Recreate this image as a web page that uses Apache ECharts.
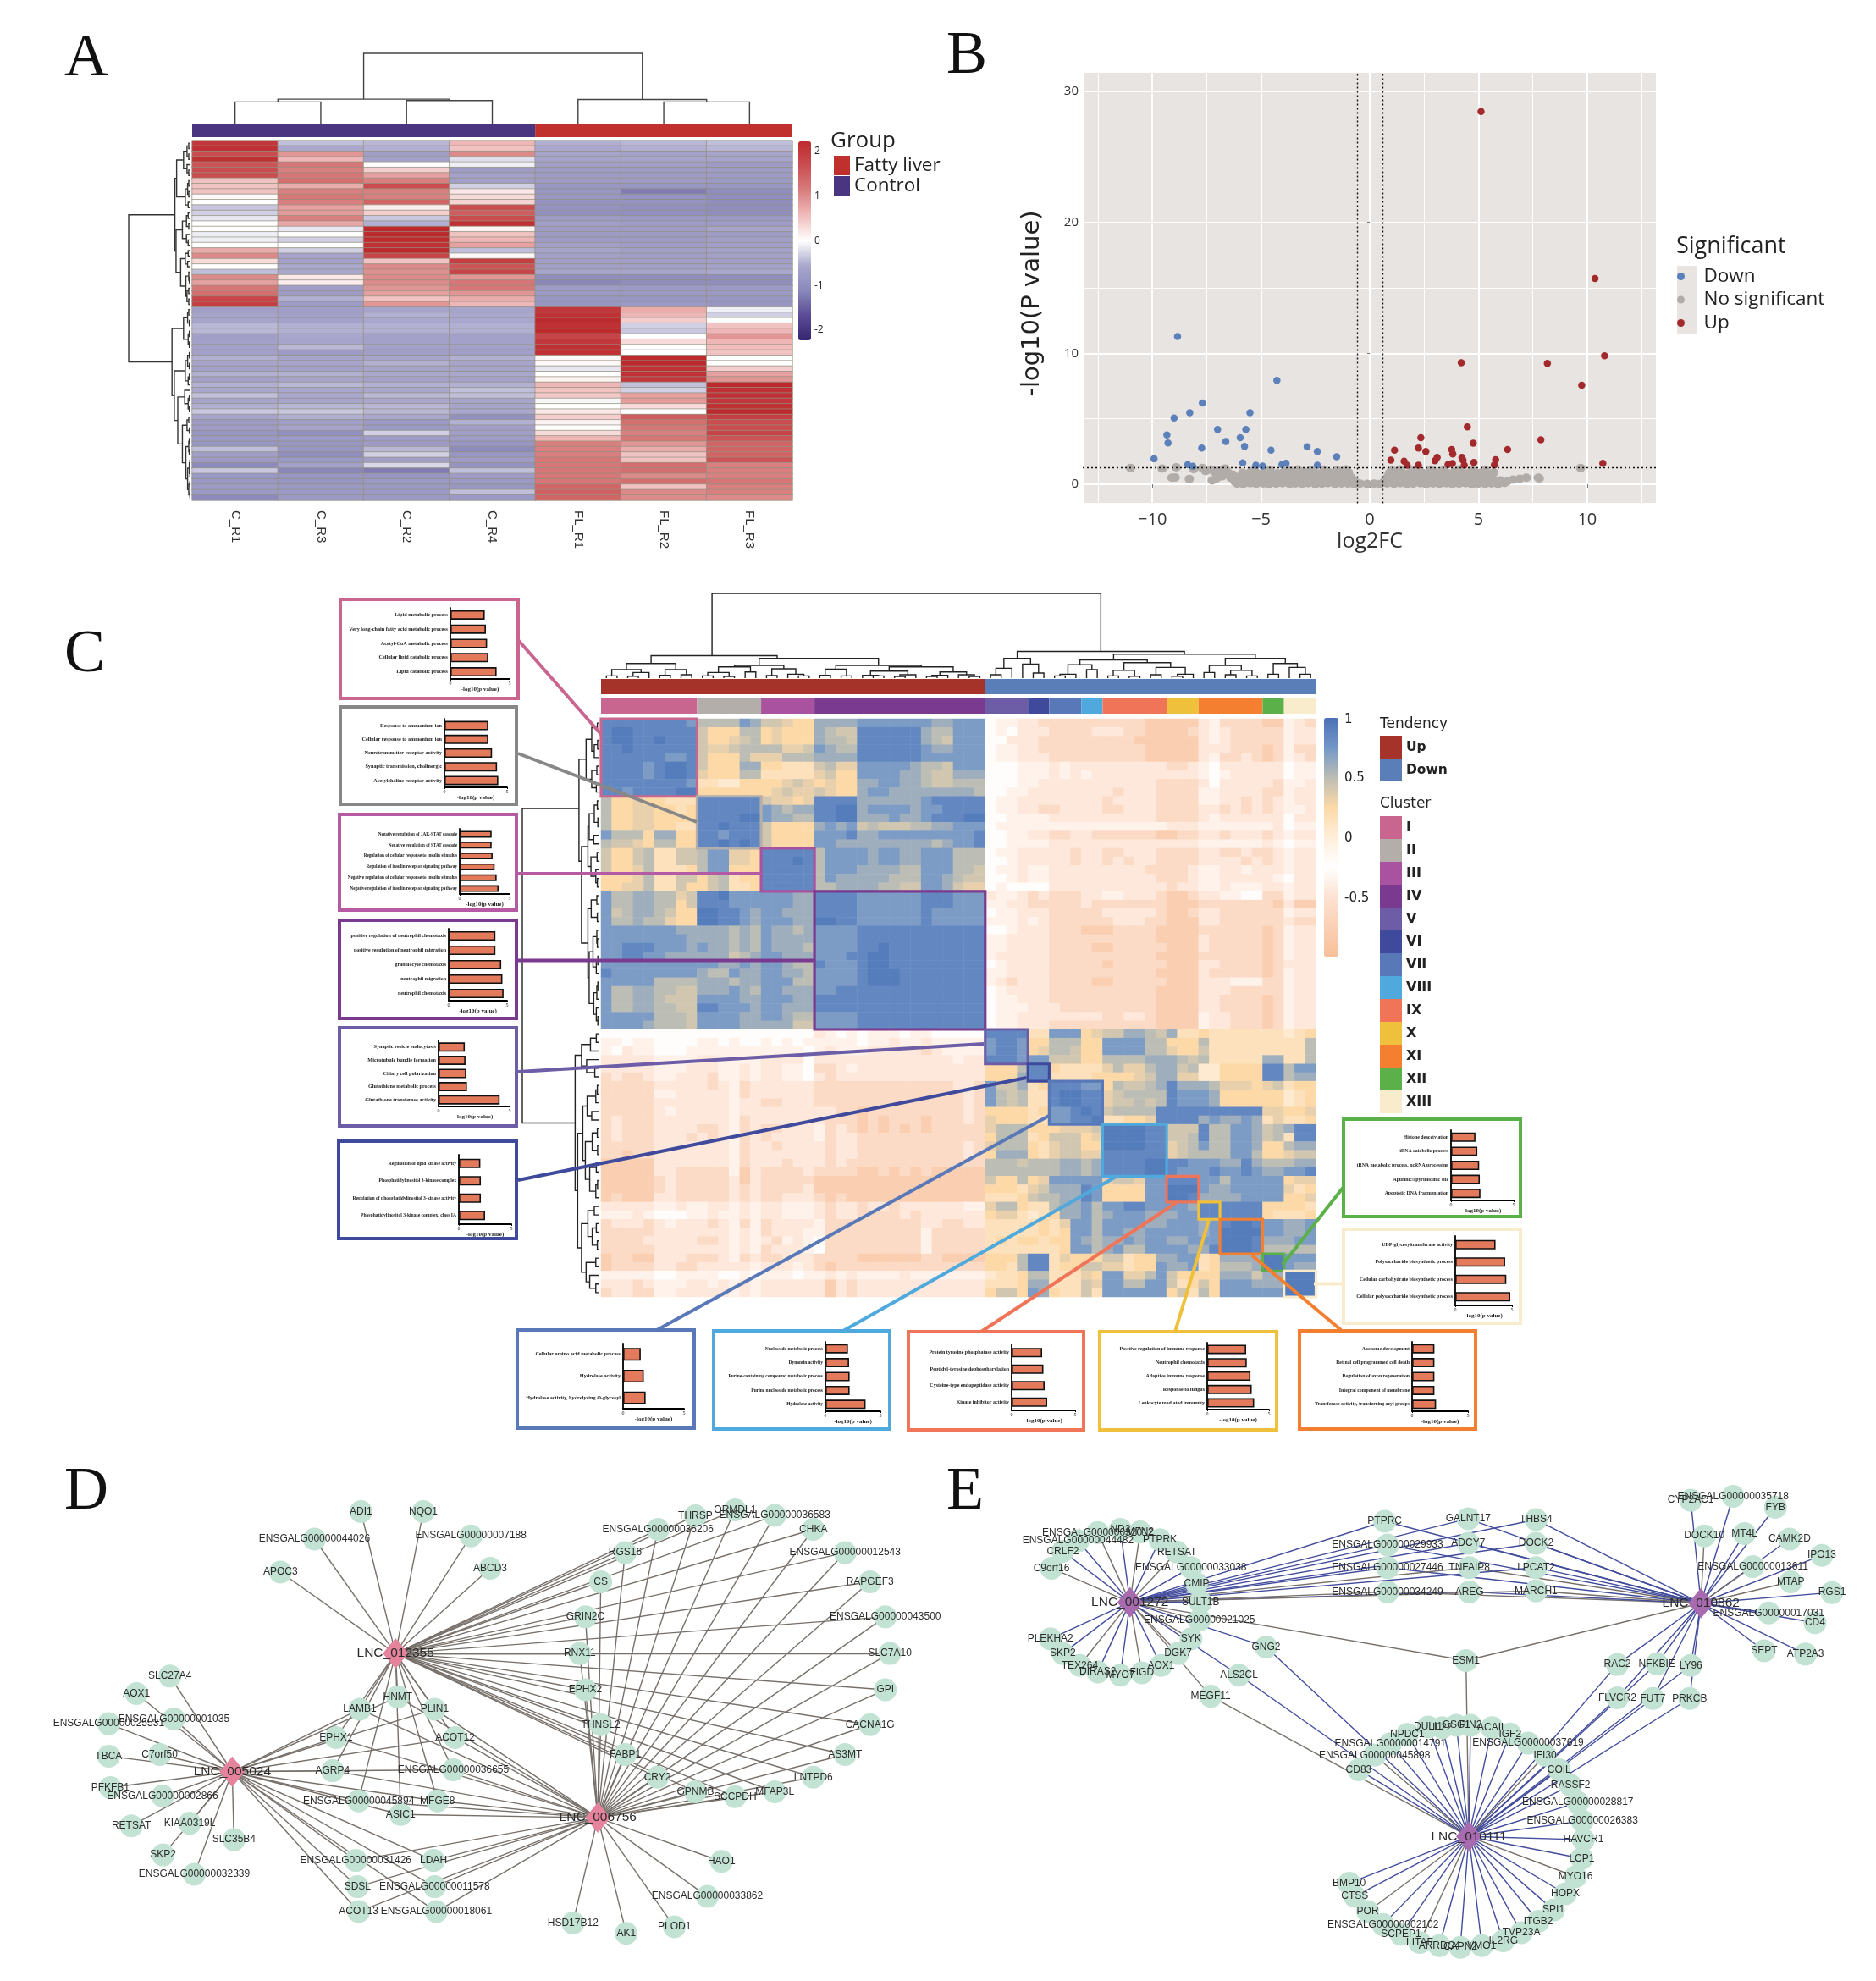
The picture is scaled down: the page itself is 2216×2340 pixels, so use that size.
<!DOCTYPE html>
<html><head><meta charset="utf-8">
<script src="https://cdn.jsdelivr.net/npm/echarts@6/dist/echarts.min.js"></script>
<style>html,body{margin:0;padding:0;background:#fff}#c{width:2216px;height:2340px;filter:blur(0.55px)}</style>
</head><body><div id="c"></div>
<script>
/* ---------- Panel A ---------- */
const sampleNames=['C_R1','C_R3','C_R2','C_R4','FL_R1','FL_R2','FL_R3'];
const groupSizes=[['Control',4,'#4a3580'],['Fatty liver',3,'#c0302c']];
const heatA=[
[2.0,-.4,-.45,.6,-.5,-.45,-.4],[2.1,-.55,-.5,.5,-.55,-.5,-.45],[1.7,.9,-.7,1.0,-.6,-.65,-.6],[2.1,.6,-.65,-.2,-.6,-.6,-.6],
[1.6,1.2,0,-.1,-.7,-.7,-.75],[1.7,1.1,.4,-.75,-.75,-.75,-.75],[1.7,1.2,.8,-.65,-.75,-.75,-.75],[.5,1.3,1.1,-.7,-.75,-.75,-.8],
[.5,.7,1.7,-.3,-.85,-.85,-.85],[.5,1.1,1.1,.2,-.85,-1.2,-1.0],[.05,1.2,1.1,.3,-.85,-.9,-1.0],[0,1.1,1.4,.35,-.9,-.9,-1.0],
[-.35,.8,.15,1.7,-.9,-.95,-1.0],[-.3,.85,.4,1.5,-.95,-.95,-1.0],[-.15,1.1,-.35,1.7,-.75,-.8,-.8],[0,.75,-.5,2.1,-.7,-.75,-.75],
[0,-.15,2.2,.1,-.75,-.75,-.6],[-.1,0,2.2,.5,-.75,-.75,-.75],[-.1,-.3,2.2,.6,-.75,-.75,-.7],[0,0,2.1,.8,-.7,-.75,-.7],
[.7,-.3,2.2,-.4,-.6,-.7,-.65],[1.0,-.6,1.8,.05,-.65,-.7,-.65],[.3,-.65,.5,1.9,-.7,-.7,-.7],[0,-.55,1.0,1.6,-.7,-.7,-.65],
[-.4,-.55,.95,1.8,-.6,-.6,-.55],[1.0,.2,1.0,.9,-1.0,-1.0,-1.0],[.8,.15,1.0,1.2,-1.1,-1.0,-1.0],[1.2,-.7,.9,1.2,-.75,-.8,-.8],
[1.3,-.75,.8,.9,-.8,-.8,-.8],[1.8,-.5,.5,.7,-.85,-.85,-.85],[1.9,-.75,.9,.6,-.85,-.8,-.85],
[-.7,-.7,-.6,-.6,2.0,.7,-.1],[-.6,-.65,-.5,-.55,2.1,.6,-.3],[-.6,-.65,-.55,-.55,2.2,.4,0],[-.45,-.5,-.5,-.5,2.1,-.3,.5],
[-.45,-.5,-.5,-.5,2.2,-.35,.6],[-.7,-.55,-.65,-.65,1.8,0,.9],[-.65,-.6,-.65,-.65,2.0,.3,.6],[-.65,-.45,-.65,-.65,2.1,0,.55],
[-.65,-.75,-.7,-.7,2.1,0,.5],[-.5,-.6,-.6,-.5,.05,2.2,0],[-.6,-.6,-.5,-.6,.05,2.2,0],[-.65,-.65,-.6,-.6,-.15,2.1,.4],
[-.5,-.5,-.55,-.55,0,2.1,.8],[-.65,-.6,-.65,-.65,.1,2.0,.9],[-.5,-.45,-.5,-.5,.6,-.4,2.2],[-.55,-.55,-.55,-.4,.5,-.3,2.1],
[-.4,-.55,-.45,-.4,.45,.8,2.1],[-.6,-.6,-.55,-.6,-.05,.85,2.0],[-.5,-.45,-.45,-.6,0,.3,2.1],[-.35,-.35,-.45,-.55,.2,0,2.2],
[-.6,-.5,-.55,-.95,.4,1.5,1.9],[-.75,-.7,-.8,-.5,.1,1.3,1.7],[-.75,-.6,-.8,-.7,0,1.2,1.7],[-.85,-.95,-.3,-.7,.3,1.1,1.8],
[-.8,-.8,-.75,-.75,.6,1.2,1.6],[-.85,-.85,-.75,-.85,1.1,.9,1.4],[-.4,-.85,-.45,-1.05,1.1,.7,1.4],[-.7,-1,-.3,-.85,1.1,.5,1.4],
[-.75,-.8,-.7,-.75,1.2,.5,1.6],[-1.05,-.65,-.25,-.9,1.2,1.3,1.1],[-.35,-1.1,-1.2,-.4,1.2,1.3,1.1],[-.8,-.85,-.85,-.75,1.2,1.0,1.1],
[-.8,-.85,-.8,-.8,1.2,1.3,1.2],[-.75,-.8,-.8,-.85,1.4,.5,1.1],[-.8,-.8,-.8,-.4,1.45,1.0,1.1],[-1.05,-.8,-.8,-.8,1.4,1.0,1.0]];
const treeAcol=[205,[73,[65,0,0],[69,0,0]],[72,0,[65,0,0]]];
const treeArow=[107,
 [27,[24,[12,[6,[3,0,0],[3,0,0]],[6,0,[3,0,0]]],[9,[5,[3,0,0],[3,0,0]],[4,0,0]]],[25,[14,[7,[4,0,0],[3,0,0]],[7,0,[4,0,0]]],[17,[9,[4,0,0],[5,0,0]],[8,[3,0,[2,0,0]],[6,[3,0,0],[3,0,0]]]]]],
 [32,[12,[5,[3,0,0],[2,0,0]],[4,[2,0,0],[2,0,0]]],[28,[9,[5,[2,0,0],[2,0,0]],[4,[2,0,0],0]],[22,[10,0,[4,[2,0,0],[2,0,0]]],[14,[6,[3,0,0],[2,0,0]],[8,[3,[2,0,0],[2,0,0]],[5,[2,[1,0,0],[1,0,0]],[3,[1,0,0],[1,0,0]]]]]]]]];

/* ---------- Panel B ---------- */
const downPts=[[-8.84,11.28],[-4.27,7.94],[-7.7,6.2],[-8.28,5.46],[-5.51,5.46],[-9,5.06],[-7,4.19],[-5.7,4.19],[-9.33,3.77],[-5.96,3.56],[-6.62,3.27],[-9.28,3.16],[-5.76,2.9],[-7.73,2.77],[-4.54,2.61],[-2.88,2.87],[-2.41,2.5],[-1.52,2.11],[-9.92,1.95],[-5.84,1.63],[-8.37,1.5],[-8.14,1.37],[-5.24,1.45],[-4.93,1.4],[-4.04,1.5],[-3.85,1.61],[-2.41,1.45]];
const upPts=[[5.12,28.45],[10.36,15.71],[10.8,9.81],[4.21,9.28],[8.17,9.23],[9.75,7.57],[4.49,4.38],[7.87,3.4],[2.35,3.56],[4.76,3.14],[2.24,2.77],[1.14,2.61],[2.58,2.5],[3.77,2.66],[3.82,2.32],[6.34,2.66],[3.1,2.06],[3,1.8],[4.24,2.06],[4.29,1.85],[.97,1.85],[1.58,1.77],[1.72,1.45],[2.24,1.45],[3.6,1.5],[3.8,1.58],[4.35,1.45],[4.79,1.66],[5.79,1.87],[5.73,1.48],[10.72,1.61]];
const greyPts=[[-11,1.25],[-9.55,1.2],[-9.1,.5],[-8.95,.52],[-8.3,.4],[-8.9,1.3],[-8.1,1.15],[-7.7,1.25],[-7.55,1.0],[-7.3,1.12],[-7.1,.9],[-6.95,1.05],[-7.25,.3],[-7.05,.45],[-6.8,.6],[-6.7,.78],[-6.55,.95],[-6.4,.5],[-6.3,.75],[-6.65,1.2],[-6.2,.2],
[-6.1,.05],[-5.82,.03],[-5.5,.08],[-5.22,.04],[-4.9,.07],[-4.63,.02],[-4.3,.06],[-4.02,.09],[-3.68,.03],[-3.42,.07],[-3.1,.04],[-2.83,.08],[-2.5,.02],[-2.2,.06],[-1.93,.09],[-1.6,.03],[-1.31,.07],[-1,.05],[-.72,.02],[-.45,.06],[-.12,.03],[.2,.05],[.47,.02],[.8,.07],[1.12,.04],[1.41,.09],[1.72,.03],[2,.06],[2.33,.08],[2.6,.02],[2.91,.07],[3.2,.04],[3.52,.09],[3.8,.03],[4.11,.06],[4.42,.08],[4.7,.02],[5,.05],[5.31,.04],[5.6,.07],[5.9,.03],[6.2,.1],
[-6,.28],[-5.71,.33],[-5.4,.25],[-5.1,.36],[-4.82,.29],[-4.5,.34],[-4.21,.26],[-3.9,.38],[-3.6,.3],[-3.31,.27],[-3,.35],[-2.72,.31],[-2.41,.25],[-2.1,.37],[-1.8,.29],[-1.5,.34],[-1.22,.27],[-.92,.33],[-.68,.22],[.68,.24],[.93,.31],[1.2,.28],[1.5,.36],[1.82,.26],[2.1,.33],[2.42,.29],[2.7,.37],[3.01,.25],[3.31,.34],[3.6,.3],[3.9,.27],[4.2,.36],[4.52,.3],[4.8,.26],[5.12,.34],[5.42,.28],[5.72,.32],[6,.3],[6.35,.25],[6.6,.36],[6.9,.42],[7.2,.5],
[-5.95,.58],[-5.62,.62],[-5.31,.55],[-5,.66],[-4.7,.6],[-4.4,.55],[-4.1,.68],[-3.8,.6],[-3.5,.57],[-3.2,.66],[-2.9,.6],[-2.6,.55],[-2.3,.67],[-2,.6],[-1.7,.55],[-1.4,.65],[-1.1,.6],[-.85,.52],[.82,.55],[1.05,.62],[1.35,.58],[1.65,.66],[1.95,.56],[2.25,.64],[2.55,.6],[2.85,.55],[3.15,.67],[3.45,.6],[3.75,.57],[4.05,.65],[4.35,.6],[4.65,.55],[4.95,.66],[5.25,.6],[5.55,.55],
[-5.85,.88],[-5.5,.92],[-5.2,.85],[-4.85,.95],[-4.55,.88],[-4.25,.84],[-3.95,.96],[-3.65,.9],[-3.35,.85],[-3.05,.95],[-2.75,.88],[-2.45,.84],[-2.15,.96],[-1.85,.9],[-1.55,.85],[-1.25,.94],[-.98,.9],[.9,.86],[1.2,.95],[1.5,.88],[1.8,.84],[2.1,.96],[2.4,.9],[2.7,.85],[3,.95],[3.3,.88],[3.6,.84],[3.9,.96],[4.2,.9],[4.5,.85],[4.8,.95],[5.1,.88],[5.4,.84],[5.7,.9],
[-5.3,1.1],[-4.6,1.12],[-3.7,1.08],[-3.3,1.13],[-2.7,1.1],[-2.1,1.12],[-1.5,1.08],[-1.1,1.14],[1,1.1],[1.4,1.13],[2,1.08],[2.8,1.12],[3.4,1.1],[4.1,1.13],[4.7,1.08],[5.3,1.12],[7.8,.45],[7.75,.5],[9.7,1.25]];
const xMinor=[-12.5,-7.5,-2.5,2.5,7.5,12.5], yMinor=[5,15,25];
const fcCut=[-.58,.58], pCut=1.29;

/* ---------- Panel C ---------- */
const tendency=[['Up',36,'#a5332a'],['Down',31,'#5a7fb8']];
const clusterNames=['I','II','III','IV','V','VI','VII','VIII','IX','X','XI','XII','XIII'];
const clusterColors=['#c9668f','#b3aeaa','#a9529f','#7a3a8f','#6c5da6','#3f4a9c','#5878b8','#4fa9dc','#f07457','#efc03c','#f47f30','#5bb04a','#f9eccd'];
const clusterBarSizes=[9,6,5,16,4,2,3,2,6,3,6,2,3];
const clusterBoxStart=[0,9,15,20,36,40,42,47,53,56,58,62,64];
const clusterBoxSize=[9,6,5,16,4,2,5,6,3,2,4,2,3];
const levels={a:-.27,b:-.36,c:-.45,d:-.6,e:-.78,f:-.95,'0':.05,'1':.15,'2':.25,'3':.33,'4':.42,'5':.5,'6':.6,'7':.72,'8':.85,'9':.93};
const corrUp=[
"888888887 555576 44322 6666 777777 766 777","899888888 422255 23222 6544 888888 655 777","899889888 422345 23222 6554 888888 654 777",
"889888888 433455 55334 7655 888888 766 777","888888778 422253 33555 6666 888888 777 777","888878998 422266 22111 4533 777776 554 777",
"888878998 322255 11111 3422 777766 544 666","888888887 110022 22343 2322 667766 544 555","887888899 222222 23433 4322 677666 666 665",
"522322111 888888 43323 8888 666666 788 888","522332212 888888 76566 8899 677776 778 888","522332222 888899 76655 8899 666766 788 899",
"522332211 889888 42222 6767 454445 566 777","755526622 887888 42222 7778 667777 777 778","544325522 889898 42222 7766 666666 656 778",
"422451144 577332 88888 5777 767766 777 555","422451144 577332 88898 5777 767766 777 555","422351112 577222 88888 5777 666655 777 554",
"222351144 245122 88888 5766 666555 776 544","223351142 245112 88888 5566 665544 776 433",
"755665534 889777 77766 8888 777777 888 777","755665524 888777 77766 8888 777777 888 777","745665422 998876 77666 8888 777777 877 777",
"755655322 998876 77766 9988 777777 877 777","777777766 666565 76656 7777 888888 888 888","777777776 666565 76666 7777 888888 888 888",
"778887776 766565 76665 7777 889888 888 888","778877666 666456 77666 7778 899888 888 888","777777777 776676 77655 8777 899888 888 888",
"877777777 655766 77665 7777 899988 888 888","777775555 666566 77755 7777 899988 888 888","755665544 666765 77666 7788 888888 888 888",
"755665444 777766 77766 8888 888888 888 888","755665544 887776 77666 8888 888888 888 888","777775554 777766 77655 7777 888888 888 888",
"777765554 777766 66644 7777 888888 888 888"];
const corrCross=[
"abbc cd ddddd ddddee eee cb dddd ee bcd","abac cc ddddc ccddee eed cb cddd dd bcc","aacc cd ddddd dddeee eee cb cddd dd bcc",
"abbc cd ddddd ddddee eee cc cddd ed bdd","abbc cc ddddd ddddee eee cb ddcd ed bcd","aaab bb cbccc cccccc ddc ba cccc cc abb",
"aaab bb cbcbc cccccc ccc ba bccc cc abb","aaab bc ccccc cccccd ddd ca cccc cd bbc","aabb cc ccccc cdcccd ddd bb cccc dd bcc",
"abbc cc ccccc dccccd ddd bb ccdc dc bcc","abbc cd dcccc ddcccd ddd cc dcdc dc bbc","aabb bb ccccc cccccd ddd cb cccc cc acc",
"abbb bb bbbbb bbbbbb ccc bb bbbb bc abb","aabb cc ddccd ddddde edd cc dccc dc bcc","aabb bb ccccc cccccc ccc bb bbbb cb abb",
"abbc cc ccdcc ddcccd ddd cc ddcd dc bcc","aabc cc ccdcc dcdccd ddd cc ccdc dc bcc","abbc bb ccccc ccccdd ddc bb ccbc cc bcc",
"aabc bb ccccc cccccd ddc bb cccc cb acc","abaa aa ccccc cccccc dcc bb cbbb cc bcc","cbbc dc dddcc bbcccd eed cc bbaa dd bcc",
"bbcc dd dddcd dddddd eee dd dddd de cee","abbc cc ddddd cccccd eed cc dddd dd bcc","bbbc bc ddddd dcccdd eee cc dddd dd cdd",
"aabc cc dddee edddde eee dd dddd ed bcc","bbcc cc ddddd ddddde eee cd dddd ed bcc","bbcc cc dddde eddddd eee cd dddd ed bcc",
"bccc cc ddddd ddddde eee dd dddd ed bcc","abcc cc ddddd eddddd eee cc dddd ed ccc","bbcc cc ddddd ddddde eee cd dddd ed bcc",
"bcdc cc dddde eddddd eee cc cbbb dd bcc","abcc cc ddddd ddddde eee cc cddd dd bcc","abbc cc ddddd ddddde eee cc dddd ed bcc",
"abbb cc cdddd ddddde eee cc dddd ed bcc","abbc cc ccccc ddccde eee bc cddd ed bcc","abbc cc ddddd ddddde eee bc cddd ed bcc"];
const corrDown=[
"8888 11 77723 446654 611 21 1111 11 012","7887 22 55522 777755 222 51 1111 11 115","7887 23 55422 777755 322 41 1111 11 115",
"8887 77 44422 555566 654 51 1111 66 115","2225 88 21111 353356 645 00 2222 88 577","2226 88 11112 222346 633 00 2222 88 566",
"7446 12 88877 254456 866 65 3332 34 122","7545 11 89988 345555 877 76 2222 22 012","7545 11 89988 344545 877 76 2222 22 012",
"2222 12 77898 455558 888 88 8888 33 223","3222 11 77889 112238 888 67 6676 13 112","3555 22 23334 999988 444 85 5776 45 688",
"2555 12 44423 999988 445 85 5776 45 188","3555 21 34422 999988 345 75 5776 22 566","2666 21 34433 888888 345 55 5775 22 344",
"5554 55 56656 888899 887 77 6686 55 566","5555 55 56656 888899 877 78 7787 66 778","4225 23 77777 344377 888 77 5777 77 233",
"2221 34 66687 222277 999 76 6777 77 312","1112 45 56687 222277 998 66 6677 77 223","3552 11 56675 778877 776 88 8888 22 221",
"2331 01 26675 677766 677 88 8888 21 112","1111 12 13775 777766 777 67 8998 77 667","1111 12 12775 776677 777 67 9999 77 667",
"1212 21 22765 667677 667 77 9998 66 677","1111 11 12775 675577 776 68 9998 55 555","2225 88 13222 441226 677 12 6666 99 777",
"2215 88 12244 331227 667 12 5556 99 766","0112 55 11132 773357 422 22 6664 66 999","1112 66 11143 775577 412 42 7776 66 999",
"2442 76 21141 777777 241 52 7777 77 999"];
/* node = [height, left, right, optional attach position]; 0 = leaf */
const treeC=[302,
 [80,[52,[30,[8,0,0],[20,[7,0,0],0]],[30,[10,0,0],[12,0,0]]],
  [70,[45,[40,[20,[8,0,0],[6,0,0]],[22,0,0]],[33,[9,0,0],[14,0,[8,0,0]]]],
   [45,[32,[10,0,0],[8,0,0]],[40,[25,[10,0,[8,0,0]],[12,[6,0,0],0]],[22,[10,[6,0,0],0],[12,0,[6,0,0]]]]],16.5],10.4],
 [95,[70,[35,[12,0,0],0],[50,0,[18,0,0]]],
  [85,[65,[48,[14,[8,0,0],0],[30,0,0]],[55,[28,[8,0,0],[7,0,0]],[38,[12,0,0],[14,[7,0,0],0]]]],
   [70,[45,[20,0,0],[28,[12,0,0],[8,0,0]]],[52,[14,0,0],[38,0,[14,0,0]]]]]]];

/* enrichment insets */
const insetTerms=[
["Lipid metabolic process","Very long-chain fatty acid metabolic process","Acetyl-CoA metabolic process","Cellular lipid catabolic process","Lipid catabolic process"],
["Response to ammonium ion","Cellular response to ammonium ion","Neurotransmitter receptor activity","Synaptic transmission, cholinergic","Acetylcholine receptor activity"],
["Negative regulation of JAK-STAT cascade","Negative regulation of STAT cascade","Regulation of cellular response to insulin stimulus","Regulation of insulin receptor signaling pathway","Negative regulation of cellular response to insulin stimulus","Negative regulation of insulin receptor signaling pathway"],
["positive regulation of neutrophil chemotaxis","positive regulation of neutrophil migration","granulocyte chemotaxis","neutrophil migration","neutrophil chemotaxis"],
["Synaptic vesicle endocytosis","Microtubule bundle formation","Ciliary cell polarization","Glutathione metabolic process","Glutathione transferase activity"],
["Regulation of lipid kinase activity","Phosphatidylinositol 3-kinase complex","Regulation of phosphatidylinositol 3-kinase activity","Phosphatidylinositol 3-kinase complex, class IA"],
["Cellular amino acid metabolic process","Hydrolase activity","Hydrolase activity, hydrolyzing O-glycosyl"],
["Nucleoside metabolic process","Dynamin activity","Purine-containing compound metabolic process","Purine nucleoside metabolic process","Hydrolase activity"],
["Protein tyrosine phosphatase activity","Peptidyl-tyrosine dephosphorylation","Cysteine-type endopeptidase activity","Kinase inhibitor activity"],
["Positive regulation of immune response","Neutrophil chemotaxis","Adaptive immune response","Response to fungus","Leukocyte mediated immunity"],
["Axoneme development","Retinal cell programmed cell death","Regulation of axon regeneration","Integral component of membrane","Transferase activity, transferring acyl groups"],
["Histone deacetylation","tRNA catabolic process","tRNA metabolic process, ncRNA processing","Apurinic/apyrimidinic site","Apoptotic DNA fragmentation"],
["UDP-glycosyltransferase activity","Polysaccharide biosynthetic process","Cellular carbohydrate biosynthetic process","Cellular polysaccharide biosynthetic process"]];
const insetValues=[[2.9,3.0,3.1,3.2,3.9],[3.5,3.5,3.8,4.2,4.3],[3.2,3.2,3.3,3.5,3.7,3.9],[4.0,4.0,4.5,4.6,4.7],[1.85,1.9,1.95,2.0,4.3],[2.05,2.1,2.1,2.5],[1.45,1.7,1.85],[2.05,2.15,2.2,2.2,3.65],[2.4,2.5,2.6,2.8],[3.15,3.2,3.5,3.6,3.8],[2.0,2.0,2.0,2.0,2.15],[1.95,2.1,2.25,2.3,2.35],[3.55,4.4,4.5,4.85]];
const insetFont=[6.2,6.2,5.2,6,6.2,5.6,6.2,5.5,6,6,5.8,5.8,6];

/* ---------- Panels D, E: node layouts ---------- */
const hubsD=[['LNC_012355',623,583],['LNC_005024',335,948],['LNC_006756',980,1090]];
const nodesD_A=[['ADI1',562,145],['NQO1',672,145],['ENSGALG00000044026',480,230],['ENSGALG00000007188',756,220],['APOC3',420,332],['ABCD3',790,320]];
const nodesD_AC=[['ENSGALG00000036206',1086,200],['THRSP',1152,158],['ORMDL1',1222,140],['ENSGALG00000036583',1292,157],['RGS16',1028,272],['CHKA',1360,200],['ENSGALG00000012543',1416,272],['CS',985,362],['RAPGEF3',1460,362],['GRIN2C',958,470],['ENSGALG00000043500',1487,470],['RNX11',948,583],['SLC7A10',1495,583],['EPHX2',958,695],['GPI',1487,695],['THNSL2',985,803],['CACNA1G',1460,803],['FABP1',1028,895],['AS3MT',1416,895],['CRY2',1085,965],['LNTPD6',1360,965],['GPNMB',1152,1010],['SCCPDH',1222,1025],['MFAP3L',1292,1010]];
const nodesD_ABC=[['HNMT',627,717],['LAMB1',560,755],['PLIN1',692,755],['EPHX1',518,843],['ACOT12',728,843],['AGRP4',512,945],['ENSGALG00000036655',725,942],['ENSGALG00000045894',558,1038],['MFGE8',697,1038],['ASIC1',632,1080]];
const nodesD_BC=[['ENSGALG00000031426',553,1222],['LDAH',690,1222],['SDSL',556,1303],['ENSGALG00000011578',692,1303],['ACOT13',558,1380],['ENSGALG00000018061',695,1380]];
const nodesD_B=[['SLC27A4',225,653],['AOX1',166,707],['ENSGALG00000001035',232,785],['ENSGALG00000025531',117,800],['TBCA',117,900],['C7orf50',207,895],['PFKFB1',120,997],['ENSGALG00000002866',212,1023],['RETSAT',157,1115],['KIAA0319L',260,1107],['SLC35B4',338,1158],['SKP2',213,1205],['ENSGALG00000032339',268,1265]];
const nodesD_C=[['HAO1',1198,1225],['ENSGALG00000033862',1173,1333],['PLOD1',1115,1427],['AK1',1030,1447],['HSD17B12',936,1415]];
const hubsE=[['LNC_001272',247,425],['LNC_010862',1258,428],['LNC_010111',847,1148]];
const nodesE_A=[['C9orf16',108,320],['CRLF2',128,268],['ENSGALG00000044482',155,235],['ENSGALG00000032012',190,210],['ND2',230,200],['MFN2',265,208],['PTPRK',300,232],['RETSAT',330,270],['ENSGALG00000033038',355,318],['CMIP',365,368],['SULT1B',372,425],['ENSGALG00000021025',370,480],['SYK',355,538],['DGK7',332,583],['AOX1',302,620],['FIGD',268,643],['MYO7',230,650],['DIRAS2',190,640],['TEX264',158,620],['SKP2',128,583],['PLEKHA2',106,538]];
const nodesE_AB=[['PTPRC',698,175],['GALNT17',846,167],['THBS4',966,170],['ENSGALG00000029933',703,248],['ADCY7',846,243],['DOCK2',966,243],['ENSGALG00000027446',703,318],['TNFAIP8',848,318],['LPCAT2',966,318],['ENSGALG00000034249',703,393],['AREG',848,393],['MARCH1',966,390]];
const nodesE_ABC=[['ESM1',842,605]];
const nodesE_B=[['ENSGALG00000035718',1315,98],['CYP2AC1',1240,110],['FYB',1390,132],['DOCK10',1264,220],['MT4L',1335,213],['CAMK2D',1415,230],['IPO13',1472,280],['ENSGALG00000013611',1350,315],['MTAP',1417,362],['RGS1',1490,395],['ENSGALG00000017031',1378,458],['CD4',1460,488],['SEPT',1370,575],['ATP2A3',1443,585]];
const nodesE_BC=[['RAC2',1110,617],['NFKBIE',1180,615],['LY96',1240,620],['FLVCR2',1110,720],['FUT7',1173,722],['PRKCB',1238,722]];
const nodesE_AC=[['GNG2',488,563],['ALS2CL',440,650],['MEGF11',390,715]];
const nodesE_C=[['CD83',652,942],['ENSGALG00000045898',680,897],['ENSGALG00000014791',708,862],['NPDC1',738,833],['DULI1',775,810],['IL22',800,812],['GSG1',825,805],['PIN2',850,805],['ACAIL',888,812],['IGF2',920,832],['ENSGALG00000037619',952,860],['IFI30',982,897],['COIL',1007,942],['RASSF2',1027,990],['ENSGALG00000028817',1040,1043],['ENSGALG00000026383',1048,1100],['HAVCR1',1050,1158],['LCP1',1047,1216],['MYO16',1036,1272],['HOPX',1018,1325],['SPI1',997,1375],['ITGB2',970,1410],['TVP23A',940,1445],['IL2RG',908,1470],['VMO1',870,1485],['CAPN2',832,1490],['ARRDC4',795,1485],['LITAF',760,1475],['SCPEP1',727,1450],['ENSGALG00000002102',695,1420],['POR',668,1380],['CTSS',645,1333],['BMP10',635,1292]];
const brownEdgesE=['ESM1','MEGF11','C9orf16','ENSGALG00000032012','MFN2','RETSAT','TEX264','DGK7','FIGD','ENSGALG00000021025','SYK','DOCK10','ENSGALG00000013611','MTAP','POR','MYO16','LITAF','ENSGALG00000045898','IFI30','ENSGALG00000034249','MARCH1','TNFAIP8'];

/* ---------- builders ---------- */
const grid=[],xAxis=[],yAxis=[],series=[],legend=[],visualMap=[],gfx=[];
const SANS='Liberation Sans',OPEN='Open Sans',SERIF='Liberation Serif';
function addGrid(l,t,w,h,bg){grid.push(Object.assign({left:l,top:t,width:w,height:h,containLabel:false},bg?{show:true,backgroundColor:bg,borderWidth:0}:{}));return grid.length-1;}
function hiddenVal(gi,min,max,inverse){return {gridIndex:gi,type:'value',min,max,inverse:!!inverse,show:false};}
function addAxes(x,y){xAxis.push(x);yAxis.push(y);return [xAxis.length-1,yAxis.length-1];}
function treeSegs(tree){let leaf=0;const segs=[];(function walk(n){if(!Array.isArray(n))return{x:leaf++ +.5,h:0};const a=walk(n[1]),b=walk(n[2]);segs.push([a.x,b.x,n[0],a.h,b.h]);return{x:n[3]!==undefined?n[3]:(a.x+b.x)/2,h:n[0]};})(tree);return segs;}
function addDendro(tree,gi,hMax,n,sideways,color){
 const ax=sideways?addAxes(hiddenVal(gi,0,hMax,true),hiddenVal(gi,0,n,true)):addAxes(hiddenVal(gi,0,n),hiddenVal(gi,0,hMax));
 series.push({type:'custom',silent:true,xAxisIndex:ax[0],yAxisIndex:ax[1],clip:false,animation:false,data:treeSegs(tree),
  renderItem(p,api){const a=api.value(0),b=api.value(1),t=api.value(2),ha=api.value(3),hb=api.value(4);
   const c=(pos,h)=>api.coord(sideways?[h,pos]:[pos,h]);
   return {type:'polyline',shape:{points:[c(a,ha),c(a,t),c(b,t),c(b,hb)]},style:{stroke:color,lineWidth:1.4,fill:null}};}});
}
function addStack(gi,items,n){
 const ax=addAxes(hiddenVal(gi,0,n),{gridIndex:gi,type:'category',data:['a'],show:false});
 items.forEach(it=>series.push({type:'bar',name:it[0],stack:'s'+gi,barWidth:'100%',silent:true,animation:false,xAxisIndex:ax[0],yAxisIndex:ax[1],data:[it[1]],itemStyle:{color:it[2]}}));
}
function txt(t,x,y,size,opt){gfx.push({type:'text',z:100,silent:true,x,y,style:Object.assign({text:t,fontSize:size,fontFamily:OPEN,fill:'#222',verticalAlign:'middle'},opt||{})});}

/* A */
{
 const g=addGrid(227,166,709,425);
 const ax=addAxes({gridIndex:g,type:'category',data:sampleNames,position:'bottom',axisLine:{show:false},axisTick:{show:false},
   axisLabel:{rotate:-90,interval:0,margin:12,fontSize:15,fontFamily:SANS,color:'#333'}},
   {gridIndex:g,type:'category',inverse:true,data:heatA.map((_,i)=>i),show:false});
 const d=[];heatA.forEach((r,i)=>r.forEach((v,j)=>d.push([j,i,v])));
 const si=series.length;
 series.push({type:'heatmap',silent:true,animation:false,progressive:0,xAxisIndex:ax[0],yAxisIndex:ax[1],data:d,itemStyle:{borderColor:'#93917f',borderWidth:.7}});
 visualMap.push({type:'continuous',seriesIndex:si,min:-2.2,max:2.2,left:943,top:167,itemWidth:15,itemHeight:235,padding:0,calculable:false,hoverLink:false,realtime:false,
  inRange:{color:['#372570','#5a4c94','#8a88bb','#a9a7cd','#ffffff','#f0bcbc','#d97f7f','#cb4f52','#bd2a2e']}});
 addDendro(treeAcol,addGrid(227,63,709,84),205,7,false,'#444');
 addDendro(treeArow,addGrid(152,166,73,425),107,67,true,'#333');
 addStack(addGrid(227,147,709,15),groupSizes,7);
 legend.push({left:985,top:184,orient:'vertical',selectedMode:false,icon:'rect',itemWidth:19,itemHeight:23,itemGap:1,padding:0,
  textStyle:{fontFamily:OPEN,fontSize:22.5,color:'#222'},data:['Fatty liver','Control']});
 txt('Group',981,167,26);
 [[2,179],[1,232],[0,285],[-1,338],[-2,390]].forEach(t=>txt(String(t[0]),962,t[1],12));
}
/* B */
{
 const g=addGrid(1279,84.5,678,510,'#e8e4e2');
 const ax=addAxes({gridIndex:g,type:'value',min:-13.2,max:13.2,splitNumber:5,
   splitLine:{show:true,lineStyle:{color:'#fff',width:2}},axisLine:{show:false},axisTick:{show:true,length:4,lineStyle:{color:'#777'}},
   axisLabel:{fontFamily:OPEN,fontSize:20,color:'#333',margin:10,showMinLabel:false,showMaxLabel:false,formatter:v=>v<0?'\u2212'+Math.abs(v):String(v)},
   name:'log2FC',nameLocation:'middle',nameGap:33,nameTextStyle:{fontFamily:OPEN,fontSize:25,color:'#333',verticalAlign:'top'}},
  {gridIndex:g,type:'value',min:-1.45,max:31.5,splitNumber:3,
   splitLine:{show:true,lineStyle:{color:'#fff',width:2}},axisLine:{show:false},axisTick:{show:true,length:3,lineStyle:{color:'#777'}},
   axisLabel:{fontFamily:OPEN,fontSize:15,color:'#333',margin:5,showMinLabel:false,showMaxLabel:false},
   name:'-log10(P value)',nameLocation:'middle',nameGap:45,nameTextStyle:{fontFamily:'DejaVu Sans',fontSize:29,color:'#222',padding:[0,38,0,0]}});
 const base={type:'scatter',silent:true,animation:false,xAxisIndex:ax[0],yAxisIndex:ax[1],symbolSize:8.5};
 const thin={color:'#fff',width:1,type:'solid'};
 series.push(Object.assign({},base,{name:'No significant',symbolSize:[11,10],data:greyPts,itemStyle:{color:'#b2aca9',opacity:1},
  markLine:{silent:true,z:1,symbol:'none',animation:false,label:{show:false},lineStyle:thin,data:xMinor.map(v=>({xAxis:v})).concat(yMinor.map(v=>({yAxis:v})))}}));
 series.push(Object.assign({},base,{name:'Down',data:downPts,itemStyle:{color:'#5b80ba',opacity:1}}));
 series.push(Object.assign({},base,{name:'Up',data:upPts,itemStyle:{color:'#a32a2c',opacity:1},
  markLine:{silent:true,z:6,symbol:'none',animation:false,label:{show:false},lineStyle:{color:'#111',width:1.4,type:[2,3]},data:fcCut.map(v=>({xAxis:v})).concat([{yAxis:pCut}])}}));
 legend.push({left:1981,top:315,orient:'vertical',selectedMode:false,icon:'circle',itemWidth:24,itemHeight:9,itemGap:4.5,padding:0,
  textStyle:{fontFamily:OPEN,fontSize:22.5,color:'#222',padding:[0,0,0,10]},
  data:[{name:'Down',itemStyle:{color:'#5b80ba'}},{name:'No significant',itemStyle:{color:'#b2aca9'}},{name:'Up',itemStyle:{color:'#a32a2c'}}]});
 gfx.push({type:'rect',z:-1,silent:true,shape:{x:1981,y:314,width:24,height:81},style:{fill:'#e8e4e2'}});
 txt('Significant',1980,291,27);
}
/* C */
{
 const g=addGrid(710,849,844.5,683);
 const cats=[...Array(67).keys()];
 const ax=addAxes({gridIndex:g,type:'category',data:cats,show:false},{gridIndex:g,type:'category',inverse:true,data:cats,show:false});
 const up=corrUp.map(s=>s.replace(/ /g,'')),cr=corrCross.map(s=>s.replace(/ /g,'')),dn=corrDown.map(s=>s.replace(/ /g,''));
 const d=[];
 up.forEach((s,i)=>{for(let j=0;j<36;j++)d.push([j,i,levels[s[j]]]);});
 cr.forEach((s,i)=>{for(let j=0;j<31;j++){const v=levels[s[j]];d.push([36+j,i,v]);d.push([i,36+j,v]);}});
 dn.forEach((s,i)=>{for(let j=0;j<31;j++)d.push([36+j,36+i,levels[s[j]]]);});
 const si=series.length;
 series.push({type:'heatmap',silent:true,animation:false,progressive:0,xAxisIndex:ax[0],yAxisIndex:ax[1],data:d});
 visualMap.push({type:'continuous',seriesIndex:si,min:-1,max:1,left:1564,top:848,itemWidth:17,itemHeight:282,padding:0,calculable:false,hoverLink:false,realtime:false,
  inRange:{color:['#f8c09a','#fad0b4','#fde2d2','#ffffff','#feeeda','#fdd9a8','#bcbdb4','#7397c8','#4a71b6']}});
 const ov=addAxes(hiddenVal(g,0,67),hiddenVal(g,0,67,true));
 series.push({type:'custom',silent:true,animation:false,clip:false,z:5,xAxisIndex:ov[0],yAxisIndex:ov[1],
  data:clusterBoxStart.map((s,i)=>[s,clusterBoxSize[i]]),
  renderItem(p,api){const s=api.value(0),n=api.value(1),a=api.coord([s,s]),b=api.coord([s+n,s+n]);
   return {type:'rect',shape:{x:a[0],y:a[1],width:b[0]-a[0],height:b[1]-a[1]},style:{stroke:clusterColors[p.dataIndex],lineWidth:3.2,fill:null}};}});
 addDendro(treeC,addGrid(710,701,844.5,100),302,67,false,'#222');
 addDendro(treeC,addGrid(617,849,91,683),302,67,true,'#222');
 addStack(addGrid(710,802,844.5,18),tendency,67);
 addStack(addGrid(710,825,844.5,18),clusterNames.map((n,i)=>[n,clusterBarSizes[i],clusterColors[i]]),67);
 legend.push({left:1630,top:869,orient:'vertical',selectedMode:false,icon:'rect',itemWidth:26,itemHeight:27,itemGap:0,padding:0,
  textStyle:{fontFamily:'DejaVu Sans',fontSize:15.5,fontWeight:'bold',color:'#222'},
  data:tendency.map(t=>({name:t[0],itemStyle:{color:t[2]}}))});
 legend.push({left:1630,top:964,orient:'vertical',selectedMode:false,icon:'rect',itemWidth:26,itemHeight:27,itemGap:0,padding:0,
  textStyle:{fontFamily:'DejaVu Sans',fontSize:16,fontWeight:'bold',color:'#222'},data:clusterNames});
 txt('Tendency',1630,856,17,{fontFamily:'DejaVu Sans'});
 txt('Cluster',1630,950,17,{fontFamily:'DejaVu Sans'});
 [['1',850],['0.5',919],['0',990],['-0.5',1061]].forEach(t=>txt(t[0],1588,t[1],15,{fontFamily:'DejaVu Sans'}));
 const frames=[[402,708,210,117],[402,835,208,115],[401,962,209,113],[401,1087,209,116],[401,1214,209,116],[400,1348,210,115],[611,1571,209,116],[843,1572,208,116],[1073,1573,207,116],[1299,1573,209,116],[1535,1572,208,116],[1587,1322,209,115],[1587,1452,209,111]];
 const frameCols=['#c9668f','#878787','#b55aa5','#7a3a8f','#6c5da6','#3f4a9c','#5878b8','#4fa9dc','#f07457','#efc03c','#f47f30','#5bb04a','#f9eccd'];
 const links=[[612,756,710.6,868],[612,890,823,971],[612,1032,899,1032],[612,1134.5,962,1134.5],[612,1266,1162,1233],[612,1394,1212.5,1273],[776,1571,1239,1318],[996,1572,1320,1389],[1159,1573,1389,1421],[1388,1573,1428,1441],[1584,1571,1479,1483],[1587,1402,1515,1494],[1587,1516.6,1552,1516.6]];
 frames.forEach((f,i)=>{
  gfx.push({type:'rect',z:90,silent:true,shape:{x:f[0],y:f[1],width:f[2],height:f[3]},style:{stroke:frameCols[i],lineWidth:4,fill:null}});
  const l=links[i];
  gfx.push({type:'polyline',z:91,silent:true,shape:{points:[[l[0],l[1]],[l[2],l[3]]]},style:{stroke:frameCols[i],lineWidth:4,fill:null}});
 });
 const insetBox=[[532,718,70,84],[525,849,74,81],[543,979,59,77],[530,1097,69,85],[518,1229,84,78],[542,1364,62,82],[736,1587,72,77],[975,1585,65,82],[1195,1588,75,78],[1426,1586,73,79],[1668,1585,66,82],[1714,1335,74,83],[1719,1460,67,82]];
 insetBox.forEach((b,i)=>{
  const gi=addGrid(b[0],b[1],b[2],b[3]);
  const a=addAxes({gridIndex:gi,type:'value',min:0,max:5,interval:5,splitLine:{show:false},
    axisLine:{show:true,lineStyle:{color:'#000',width:1.8}},axisTick:{show:true,length:2,lineStyle:{color:'#000',width:1}},
    axisLabel:{fontSize:6,margin:2,color:'#222',fontFamily:SERIF},
    name:'-log10(p value)',nameLocation:'middle',nameGap:4,nameTextStyle:{fontSize:7,fontFamily:SERIF,fontWeight:'bold',color:'#222'}},
   {gridIndex:gi,type:'category',inverse:true,data:insetTerms[i],splitLine:{show:false},
    axisLine:{show:true,lineStyle:{color:'#000',width:1.8}},axisTick:{show:false},
    axisLabel:{interval:0,fontSize:insetFont[i],margin:3,fontFamily:SERIF,fontWeight:'bold',color:'#222'}});
  series.push({type:'bar',silent:true,animation:false,xAxisIndex:a[0],yAxisIndex:a[1],data:insetValues[i],barWidth:insetValues[i].length>5?8:(insetValues[i].length<4?15:11),
   itemStyle:{color:'#e47a5c',borderColor:'#111',borderWidth:1.6}});
 });
}
/* D, E */
function addNet(l,t,w,h,hubs,groups,hubColor,edgeColor,brown){
 const gi=addGrid(l,t,w,h);
 const ax=addAxes(hiddenVal(gi,0,1568),hiddenVal(gi,0,1568,true));
 const nodes=[],links=[];
 const lbl={show:true,position:'inside',fontSize:12,fontFamily:SANS,color:'#2b2b2b'};
 groups.forEach(g=>g[0].forEach(n=>{
  nodes.push({name:n[0],value:[n[1],n[2]],symbol:'circle',symbolSize:27,itemStyle:{color:'#c2e2d4'},label:lbl});
  g[1].forEach(hi=>links.push({source:n[0],target:hubs[hi][0],lineStyle:{color:(brown&&!brown.includes(n[0]))?edgeColor:'#77706a',width:1.4}}));
 }));
 hubs.forEach(n=>nodes.push({name:n[0],value:[n[1],n[2]],symbol:'diamond',symbolSize:[30,36],itemStyle:{color:hubColor},label:Object.assign({},lbl,{fontSize:15.5})}));
 series.push({type:'graph',layout:'none',coordinateSystem:'cartesian2d',xAxisIndex:ax[0],yAxisIndex:ax[1],silent:true,animation:false,roam:false,data:nodes,links,z:3,lineStyle:{opacity:1,curveness:0}});
}
addNet(50,1730,1050,600,hubsD,[[nodesD_A,[0]],[nodesD_AC,[0,2]],[nodesD_ABC,[0,1,2]],[nodesD_BC,[1,2]],[nodesD_B,[1]],[nodesD_C,[2]]],'#e5829c','#77706a');
addNet(1170,1730,1046,600,hubsE,[[nodesE_A,[0]],[nodesE_AB,[0,1]],[nodesE_ABC,[0,1,2]],[nodesE_B,[1]],[nodesE_BC,[1,2]],[nodesE_AC,[0,2]],[nodesE_C,[2]]],'#a86bb0','#424c9c',brownEdgesE);

/* panel letters */
[['A',76,70],['B',1118,67],['C',76,774],['D',76,1763],['E',1118,1763]].forEach(t=>txt(t[0],t[1],t[2],72,{fontFamily:SERIF,fill:'#111'}));

const chart=echarts.init(document.getElementById('c'),null,{width:2216,height:2340,renderer:'canvas'});
chart.setOption({backgroundColor:'#ffffff',animation:false,tooltip:{show:false},grid,xAxis,yAxis,series,legend,visualMap,graphic:{elements:gfx}});
</script></body></html>
